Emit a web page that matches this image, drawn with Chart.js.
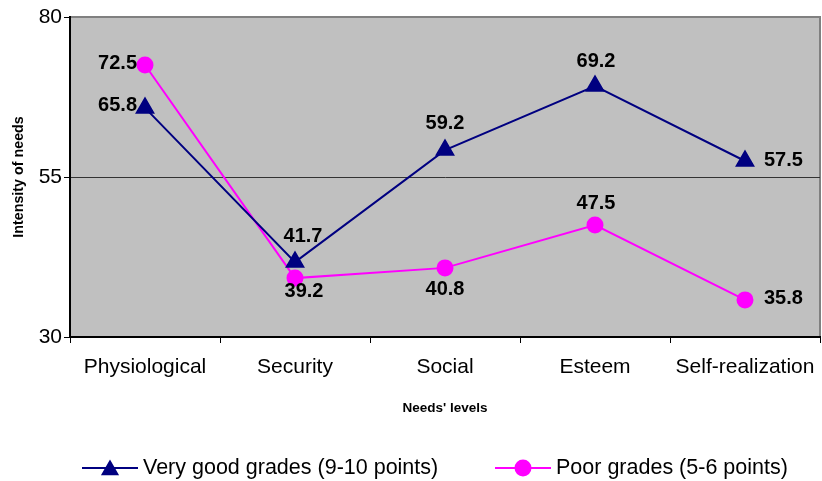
<!DOCTYPE html>
<html>
<head>
<meta charset="utf-8">
<title>Intensity of needs by needs' levels</title>
<script src="https://cdn.jsdelivr.net/npm/chart.js@4/dist/chart.umd.min.js"></script>
<style>
  html, body { margin: 0; padding: 0; background: #fff; }
  #wrap { width: 822px; height: 481px; }
</style>
</head>
<body>
<div id="wrap"><canvas id="chart" width="822" height="481"></canvas></div>
<script>
// Categories and series values
const needsLevels = ['Physiological', 'Security', 'Social', 'Esteem', 'Self-realization'];
const veryGoodGrades = [65.8, 41.7, 59.2, 69.2, 57.5];
const poorGrades = [72.5, 39.2, 40.8, 47.5, 35.8];
const yTicks = [30, 55, 80];
const seriesNames = ['Very good grades (9-10 points)', 'Poor grades (5-6 points)'];

// Value label placement per point: [dx, dy, text alignment]
const labelPlacementGood = [[-8, -2, 'right'], [8, -26, 'center'], [0, -27, 'center'], [1, -25, 'center'], [19, -1, 'left']];
const labelPlacementPoor = [[-8, -2, 'right'], [9, 13, 'center'], [0, 22, 'center'], [1, -22, 'center'], [19, -1, 'left']];

const FONT = '"Liberation Sans", Arial, Helvetica, sans-serif';
const NAVY = '#000080';
const MAGENTA = '#ff00ff';

// Gray plot area with a thin border
const plotBackground = {
  id: 'plotBackground',
  beforeDraw(chart) {
    const { ctx, chartArea: a } = chart;
    ctx.save();
    ctx.fillStyle = '#c0c0c0';
    ctx.fillRect(a.left, a.top, a.right - a.left, a.bottom - a.top);
    ctx.strokeStyle = '#808080';
    ctx.lineWidth = 2;
    ctx.strokeRect(a.left, a.top, a.right - a.left, a.bottom - a.top);
    ctx.restore();
  }
};

// Bold value labels next to each point
const valueLabels = {
  id: 'valueLabels',
  afterDatasetsDraw(chart) {
    const { ctx } = chart;
    ctx.save();
    ctx.font = 'bold 20px ' + FONT;
    ctx.fillStyle = '#000';
    ctx.textBaseline = 'middle';
    chart.data.datasets.forEach((ds, di) => {
      const meta = chart.getDatasetMeta(di);
      meta.data.forEach((pt, i) => {
        const [dx, dy, align] = ds.labelPlacement[i];
        ctx.textAlign = align;
        ctx.fillText(ds.data[i].toFixed(1), pt.x + dx, pt.y + dy);
      });
    });
    ctx.restore();
  }
};

// Legend drawn below the axis title: line sample with marker, then name
const lineLegend = {
  id: 'lineLegend',
  afterDraw(chart) {
    const { ctx } = chart;
    const y = 468;
    const starts = [82, 495];
    ctx.save();
    ctx.font = '21.5px ' + FONT;
    ctx.textBaseline = 'middle';
    ctx.textAlign = 'left';
    chart.data.datasets.forEach((ds, di) => {
      const x0 = starts[di];
      const x1 = x0 + 56;
      ctx.strokeStyle = ds.borderColor;
      ctx.lineWidth = 2;
      ctx.beginPath();
      ctx.moveTo(x0, y);
      ctx.lineTo(x1, y);
      ctx.stroke();
      ctx.fillStyle = ds.pointBackgroundColor;
      ctx.strokeStyle = ds.borderColor;
      Chart.helpers.drawPoint(ctx, {
        pointStyle: ds.pointStyle,
        radius: ds.pointStyle === 'triangle' ? 8.5 : 7.5,
        rotation: 0,
        borderWidth: 1
      }, (x0 + x1) / 2, y + (ds.pointStyle === 'triangle' ? 2 : 0));
      ctx.fillStyle = '#000';
      ctx.fillText(ds.label, x1 + 5, y);
    });
    ctx.restore();
  }
};

new Chart(document.getElementById('chart'), {
  type: 'line',
  data: {
    labels: needsLevels,
    datasets: [
      {
        label: seriesNames[0],
        data: veryGoodGrades,
        labelPlacement: labelPlacementGood,
        borderColor: NAVY,
        backgroundColor: NAVY,
        pointBackgroundColor: NAVY,
        pointBorderColor: NAVY,
        pointStyle: 'triangle',
        pointRadius: 9.5,
        pointHoverRadius: 9.5,
        borderWidth: 2,
        tension: 0
      },
      {
        label: seriesNames[1],
        data: poorGrades,
        labelPlacement: labelPlacementPoor,
        borderColor: MAGENTA,
        backgroundColor: MAGENTA,
        pointBackgroundColor: MAGENTA,
        pointBorderColor: MAGENTA,
        pointStyle: 'circle',
        pointRadius: 7.5,
        pointHoverRadius: 7.5,
        borderWidth: 2,
        tension: 0
      }
    ]
  },
  options: {
    responsive: false,
    animation: false,
    devicePixelRatio: 1,
    layout: { autoPadding: false, padding: { top: 17, right: 2, left: 0, bottom: 0 } },
    plugins: {
      legend: { display: false },
      tooltip: { enabled: false }
    },
    scales: {
      x: {
        offset: true,
        grid: {
          offset: true,
          drawOnChartArea: false,
          tickLength: 6,
          tickColor: '#000',
          tickWidth: 1
        },
        border: { display: true, color: '#000', width: 2 },
        ticks: {
          color: '#000',
          // tall line box pushes the labels down without adding side padding
          font: { family: FONT, size: 21, lineHeight: 2.35 },
          padding: 0,
          maxRotation: 0,
          autoSkip: false
        },
        title: {
          display: true,
          text: "Needs' levels",
          color: '#000',
          font: { family: FONT, size: 13.5, weight: 'bold' },
          padding: { top: 0, bottom: 65 }
        },
        afterFit(scale) { scale.height = 144; }
      },
      y: {
        min: yTicks[0],
        max: yTicks[yTicks.length - 1],
        afterBuildTicks(scale) { scale.ticks = yTicks.map(v => ({ value: v })); },
        grid: {
          color: ctx => (ctx.tick && ctx.tick.value === 55 ? '#333' : 'rgba(0,0,0,0)'),
          tickColor: '#000',
          tickLength: 6,
          lineWidth: 1
        },
        border: { display: true, color: '#000', width: 2 },
        ticks: {
          color: '#000',
          font: { family: FONT, size: 21 },
          padding: 2
        },
        title: {
          display: true,
          text: 'Intensity of needs',
          color: '#000',
          font: { family: FONT, size: 14.3, weight: 'bold' },
          padding: { top: 10, bottom: 0 }
        },
        afterFit(scale) { scale.width = 70; }
      }
    }
  },
  plugins: [plotBackground, valueLabels, lineLegend]
});
</script>
</body>
</html>
